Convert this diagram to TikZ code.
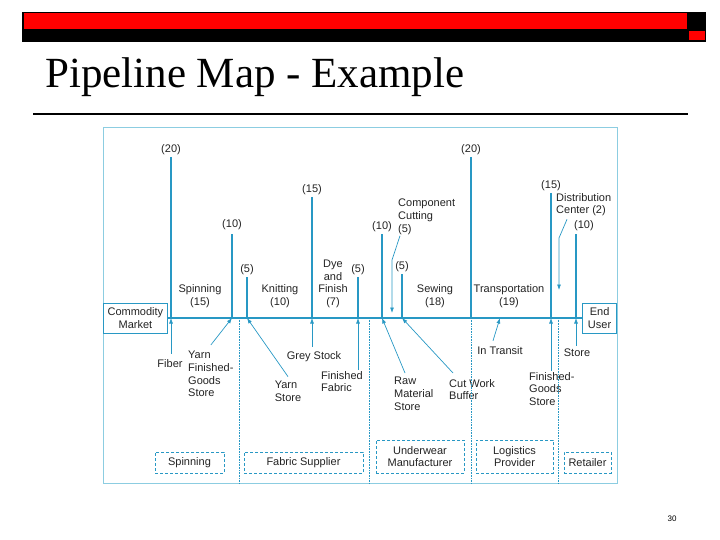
\documentclass[tikz,border=0pt]{standalone}
\usepackage{fontspec}
\setmainfont{Liberation Serif}
\setsansfont{Liberation Sans}
\usetikzlibrary{arrows.meta, positioning}

\definecolor{pipeblue}{RGB}{40,152,196}
\definecolor{framecol}{RGB}{140,205,225}
\definecolor{textgray}{RGB}{35,35,35}
\definecolor{barred}{RGB}{255,0,0}

\begin{document}
\begin{tikzpicture}[x=1pt,y=-1pt,font=\sffamily,
    lbl/.style={font=\sffamily\fontsize{11}{12.7}\selectfont,text=textgray,inner sep=1pt,align=center},
    lft/.style={lbl,align=left},
    pipe/.style={draw=pipeblue,line width=1.1pt},
    flow/.style={draw=pipeblue,line width=0.7pt,-{Latex[length=5.5pt,width=4pt]}},
    sep/.style={draw=pipeblue,densely dotted,line width=0.6pt},
    orgbox/.style={lbl,draw=pipeblue,densely dashed,line width=0.6pt,minimum height=21pt,inner sep=2pt},
    endbox/.style={lbl,draw=pipeblue,line width=0.8pt,minimum height=30pt,inner sep=1pt}]
    \useasboundingbox (0,0) rectangle (720,540);

    % Add the header
    \fill[black] (22,12) rectangle (706,42);
    \fill[barred] (24,13) rectangle (687,29);
    \fill[barred] (689,31) rectangle (705,40);
    \node[anchor=base west,inner sep=0,font=\rmfamily\fontsize{43}{43}\selectfont] (title) at (45,88) {Pipeline Map - Example};
    \draw[line width=2pt] (33,114) -- (688,114);

    % Add the frame and the end boxes
    \node[draw=framecol,line width=1pt,inner sep=0,minimum width=514pt,minimum height=356pt,anchor=north west] (frame) at (103,127) {};
    \node[endbox,minimum width=64pt,anchor=west] (cm) at (103,318) {Commodity\\Market};
    \node[endbox,minimum width=34pt,anchor=east] (eu) at (617,318) {End\\User};
    \draw[pipe,line width=1.7pt] (cm) -- (eu);

    % Add the stages
    \node[lbl] (spin) at (200,296) {Spinning\\(15)};
    \node[lbl] (knit) at (280,296) {Knitting\\(10)};
    \node[lbl] (dye) at (333,284) {Dye\\and\\Finish\\(7)};
    \node[lbl] (sew) at (435,296) {Sewing\\(18)};
    \node[lbl] (trans) at (509,296) {Transportation\\(19)};

    % Add the lead times
    \coordinate (p1) at (171,157);
    \coordinate (p2) at (232,234);
    \coordinate (p3) at (247,277);
    \coordinate (p4) at (312,197);
    \coordinate (p5) at (358,277);
    \coordinate (p6) at (382,234);
    \coordinate (p7) at (402,274);
    \coordinate (p8) at (471,157);
    \coordinate (p9) at (551,193);
    \coordinate (p10) at (576,234);
    \node[lbl,above=1.5pt of p1] (d1) {(20)};
    \node[lbl,above=3.5pt of p2] (d2) {(10)};
    \node[lbl,above=1.5pt of p3] (d3) {(5)};
    \node[lbl,above=1.5pt of p4] (d4) {(15)};
    \node[lbl,above=1.5pt of p5] (d5) {(5)};
    \node[lbl,above=1.5pt of p6] (d6) {(10)};
    \node[lbl,above=1pt of p7] (d7) {(5)};
    \node[lbl,above=1.5pt of p8] (d8) {(20)};
    \node[lbl,above=1.5pt of p9] (d9) {(15)};
    \node[lbl,above right=2pt and -3pt of p10] (d10) {(10)};

    \draw[pipe]
        (p1) edge (p1 |- cm.east)
        (p2) edge (p2 |- cm.east)
        (p3) edge (p3 |- cm.east)
        (p4) edge (p4 |- cm.east)
        (p5) edge (p5 |- cm.east)
        (p6) edge (p6 |- cm.east)
        (p7) edge (p7 |- cm.east)
        (p8) edge (p8 |- cm.east)
        (p9) edge (p9 |- cm.east)
        (p10) edge (p10 |- cm.east)
        ;

    % Add the stocks
    \node[lbl] (fiber) at (170,364) {Fiber};
    \node[lft,anchor=north west] (yfg) at (187,350) {Yarn\\Finished-\\Goods\\Store};
    \node[lft] (ys) at (288,391) {Yarn\\Store};
    \node[lbl] (grey) at (314,357) {Grey Stock};
    \node[lft,anchor=north west] (ff) at (320,370) {Finished\\Fabric};
    \node[lft,anchor=north west] (raw) at (393,376) {Raw\\Material\\Store};
    \node[lft,anchor=north west] (cwb) at (448,378) {Cut Work\\Buffer};
    \node[lbl] (transit) at (500,351) {In Transit};
    \node[lft,anchor=north west] (fgs) at (528,371) {Finished-\\Goods\\Store};
    \node[lbl] (store) at (577,353) {Store};
    \node[lft,anchor=north west] (cc) at (397,198) {Component\\Cutting\\(5)};
    \node[lft,anchor=north west] (dc) at (555,192) {Distribution\\Center (2)};
    \coordinate (k1) at (392,260);
    \coordinate (k2) at (559,238);

    % Connect the stocks with arrows
    \draw[flow] ([yshift=5pt]fiber.north -| p1) -- (p1 |- cm.east);
    \draw[flow] ([yshift=5pt]yfg.north) -- (p2 |- cm.east);
    \draw[flow] ([yshift=3pt]ys.north) -- (p3 |- cm.east);
    \draw[flow] ([yshift=4pt]grey.north -| p4) -- (p4 |- cm.east);
    \draw[flow] (ff.north -| p5) -- (p5 |- cm.east);
    \draw[flow] ([xshift=12pt,yshift=3pt]raw.north west) -- (p6 |- cm.east);
    \draw[flow] ([xshift=5pt,yshift=5pt]cwb.north west) -- (p7 |- cm.east);
    \draw[flow] ([shift={(-7pt,5pt)}]transit.north) -- (transit.north |- cm.east);
    \draw[flow] (fgs.north -| p9) -- (p9 |- cm.east);
    \draw[flow] ([yshift=2pt]store.north -| p10) -- (p10 |- cm.east);
    \draw[flow] ([xshift=3pt]cc.south west) -- (k1) -- ([yshift=5pt]k1 |- cm.east);
    \draw[flow] ([xshift=12pt,yshift=-2pt]dc.south west) -- (k2) -- ([yshift=28pt]k2 |- cm.east);

    % Add the separators
    \coordinate (s1) at (239,318);
    \coordinate (s2) at (369,318);
    \coordinate (s3) at (471,318);
    \coordinate (s4) at (558,318);
    \draw[sep]
        (s1) edge (s1 |- frame.south)
        (s2) edge (s2 |- frame.south)
        (s3) edge (s3 |- frame.south)
        (s4) edge (s4 |- frame.south)
        ;

    % Add the firms
    \node[orgbox,minimum width=69pt] (o1) at (189.5,462.5) {Spinning};
    \node[orgbox,minimum width=119pt] (o2) at (303.5,462.5) {Fabric Supplier};
    \node[orgbox,minimum width=88pt,minimum height=33pt] (o3) at (420,456.5) {Underwear\\Manufacturer};
    \node[orgbox,minimum width=77pt,minimum height=33pt] (o4) at (514.5,456.5) {Logistics\\Provider};
    \node[orgbox,minimum width=47pt] (o5) at (587.5,462.5) {Retailer};

    \node[font=\sffamily\fontsize{8}{8}\selectfont] (pg) at (672,519) {30};
\end{tikzpicture}
\end{document}
